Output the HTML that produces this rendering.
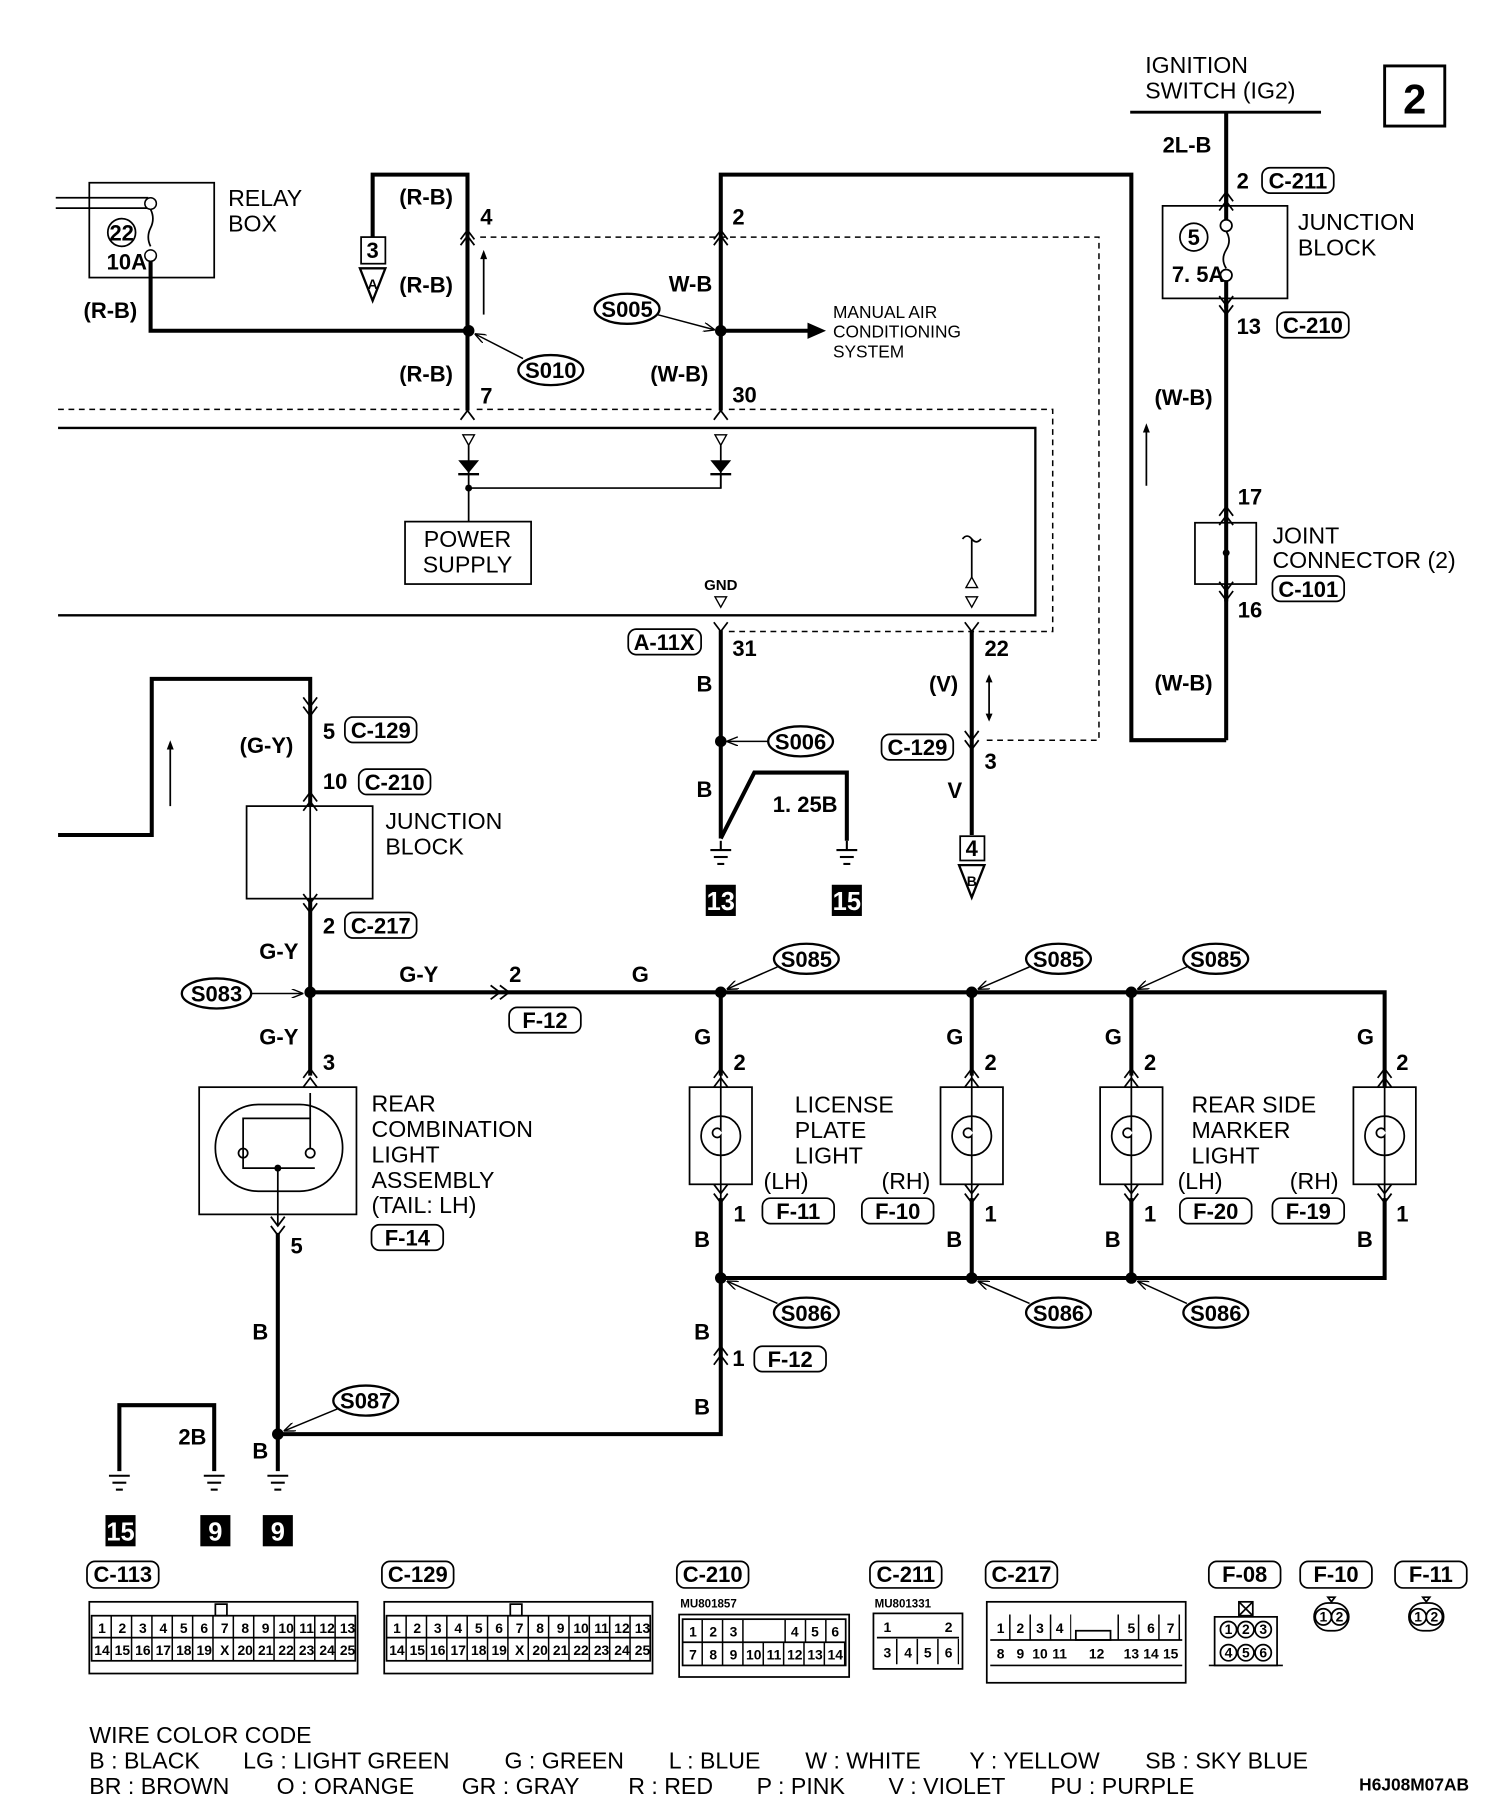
<!DOCTYPE html>
<html><head><meta charset="utf-8"><style>
html,body{margin:0;padding:0;background:#fff}
svg{display:block}
text{font-family:"Liberation Sans Narrow","Liberation Sans",sans-serif;fill:#000}
.b{font-weight:bold;font-size:19px}
.n{font-size:20px}
.s{font-size:15px}
.p{font-size:12px;font-weight:bold}
.w{stroke:#000;stroke-width:3.5;fill:none}
.t{stroke:#000;stroke-width:1.5;fill:none}
.l{stroke:#000;stroke-width:1.3;fill:none;marker-end:url(#ah)}
.d{stroke:#000;stroke-width:1.3;fill:none;stroke-dasharray:5,4}
.bx{stroke:#000;stroke-width:1.5;fill:#fff}
</style></head><body>
<svg width="1504" height="1810" viewBox="0 0 1300 1565" xmlns="http://www.w3.org/2000/svg">
<defs><marker id="ah" markerWidth="10" markerHeight="8" refX="9" refY="4" orient="auto" markerUnits="userSpaceOnUse"><path d="M0 0 L10 4 L0 8" fill="none" stroke="#000" stroke-width="1.2"/></marker></defs>
<!-- top right -->
<text class="n" x="990" y="63">IGNITION</text>
<text class="n" x="990" y="85">SWITCH (IG2)</text>
<line x1="977" y1="97" x2="1142" y2="97" stroke="#000" stroke-width="2.5"/>
<rect x="1197" y="57" width="52" height="52" fill="none" stroke="#000" stroke-width="2.5"/>
<text x="1223" y="98" font-size="36" font-weight="bold" text-anchor="middle">2</text>
<line class="w" x1="1060" y1="97" x2="1060" y2="640"/>
<rect class="bx" x="1005" y="178" width="108" height="80"/>
<line class="w" x1="1060" y1="170" x2="1060" y2="190"/>
<line class="w" x1="1060" y1="243" x2="1060" y2="266"/>
<circle cx="1060" cy="195" r="5" fill="#fff" stroke="#000" stroke-width="1.5"/>
<path class="t" d="M1060 200 q5 8 0 16 q-5 8 0 16"/>
<circle cx="1060" cy="238" r="5" fill="#fff" stroke="#000" stroke-width="1.5"/>
<circle cx="1032" cy="205" r="12" class="t"/><text class="b" x="1032" y="212" text-anchor="middle">5</text>
<text class="b" x="1013" y="244">7. 5A</text>
<text class="n" x="1122" y="199">JUNCTION</text>
<text class="n" x="1122" y="221">BLOCK</text>
<text class="b" x="1005" y="132">2L-B</text>
<text class="b" x="1069" y="163">2</text>
<rect x="1091" y="145" width="62" height="22" rx="7" class="t"/><text class="b" x="1122" y="163" text-anchor="middle">C-211</text>
<text class="b" x="1069" y="289">13</text>
<rect x="1104" y="270" width="62" height="22" rx="7" class="t"/><text class="b" x="1135" y="288" text-anchor="middle">C-210</text>
<text class="b" x="998" y="350">(W-B)</text>
<line class="t" x1="991" y1="420" x2="991" y2="370"/><path d="M991 366 l-3 8 h6z"/>
<text class="b" x="1070" y="436">17</text>
<rect class="bx" x="1033" y="452" width="53" height="53"/>
<line class="w" x1="1060" y1="440" x2="1060" y2="520"/>
<circle cx="1060" cy="478" r="3"/>
<text class="n" x="1100" y="470">JOINT</text>
<text class="n" x="1100" y="491">CONNECTOR (2)</text>
<rect x="1100" y="498" width="62" height="22" rx="7" class="t"/><text class="b" x="1131" y="516" text-anchor="middle">C-101</text>
<text class="b" x="1070" y="534">16</text>
<text class="b" x="998" y="597">(W-B)</text>
<polyline class="w" points="1060,640 978,640 978,151 623,151 623,355"/>

<!-- relay box -->
<rect class="bx" x="77" y="158" width="108" height="82"/>
<line class="t" x1="48" y1="171" x2="128" y2="171"/><line class="t" x1="48" y1="180" x2="128" y2="180"/>
<circle cx="130" cy="176" r="5" fill="#fff" stroke="#000" stroke-width="1.3"/>
<path class="t" d="M130 181 q4 8 0 16 q-4 8 0 16"/>
<circle cx="130" cy="221" r="5" fill="#fff" stroke="#000" stroke-width="1.3"/>
<circle cx="105" cy="201" r="12" class="t"/><text class="b" x="105" y="208" text-anchor="middle" font-size="16">22</text>
<text class="b" x="92" y="233" font-size="16">10A</text>
<text class="n" x="197" y="178">RELAY</text>
<text class="n" x="197" y="200">BOX</text>
<polyline class="w" points="130,226 130,286 405,286"/>
<text class="b" x="72" y="275">(R-B)</text>
<polyline class="w" points="322,205 322,151 404,151 404,355"/>
<rect class="bx" x="312" y="205" width="21" height="23" stroke-width="2"/><text class="b" x="322" y="223" text-anchor="middle" font-size="16">3</text>
<path d="M311 232 h22 l-11 28z" fill="#fff" stroke="#000" stroke-width="2"/><text x="322" y="250" font-size="12" font-weight="bold" text-anchor="middle">A</text>
<text class="b" x="345" y="177">(R-B)</text>
<text class="b" x="415" y="194">4</text>
<text class="b" x="345" y="253">(R-B)</text>
<line class="t" x1="418" y1="272" x2="418" y2="222"/><path d="M418 216 l-3 8 h6z"/>
<text class="b" x="345" y="330">(R-B)</text>
<text class="b" x="415" y="349">7</text>
<circle cx="405" cy="286" r="5"/>
<ellipse cx="476" cy="320" rx="28" ry="13" fill="#fff" stroke="#000" stroke-width="2"/><text class="b" x="476" y="327" text-anchor="middle">S010</text>
<line class="l" x1="452" y1="310" x2="411" y2="289"/>
<!-- W-B -->
<text class="b" x="633" y="194">2</text>
<text class="b" x="578" y="252">W-B</text>
<ellipse cx="542" cy="267" rx="28" ry="13" fill="#fff" stroke="#000" stroke-width="2"/><text class="b" x="542" y="274" text-anchor="middle">S005</text>
<line class="l" x1="568" y1="272" x2="617" y2="285"/>
<circle cx="623" cy="286" r="5"/>
<line class="w" x1="623" y1="286" x2="700" y2="286"/><path d="M714 286 l-16 -7 v14z"/>
<text class="s" x="720" y="275">MANUAL AIR</text>
<text class="s" x="720" y="292">CONDITIONING</text>
<text class="s" x="720" y="309">SYSTEM</text>
<text class="b" x="562" y="330">(W-B)</text>
<text class="b" x="633" y="348">30</text>
<g class="t">
<path d="M398 212 l6 -8 l6 8 M398 207 l6 -8 l6 8"/>
<path d="M617 212 l6 -8 l6 8 M617 207 l6 -8 l6 8"/>
<path d="M398 363 l6 -8 l6 8"/><path d="M617 363 l6 -8 l6 8"/>
<path d="M1054 174 l6 -8 l6 8 M1054 182 l6 -8 l6 8"/>
<path d="M1054 256 l6 8 l6 -8 M1054 264 l6 8 l6 -8"/>
<path d="M1054 446 l6 -8 l6 8 M1054 454 l6 -8 l6 8"/>
<path d="M1054 503 l6 8 l6 -8 M1054 511 l6 8 l6 -8"/>
</g>
<polyline class="d" points="415,205 950,205 950,640 850,640"/>
<polyline class="d" points="50,354 398,354"/><polyline class="d" points="412,354 616,354"/>
<polyline class="d" points="630,354 910,354 910,546 630,546"/>
<!-- ECU -->
<polyline points="50,370 895,370 895,532 50,532" fill="none" stroke="#000" stroke-width="2"/>
<path d="M400 376 h10 l-5 9z M618 376 h10 l-5 9z" fill="#fff" stroke="#000" stroke-width="1.2"/>
<line class="t" x1="405" y1="385" x2="405" y2="451"/><line class="t" x1="623" y1="385" x2="623" y2="422"/>
<path d="M396 398 h18 l-9 11z M614 398 h18 l-9 11z"/>
<line x1="396" y1="410" x2="414" y2="410" stroke="#000" stroke-width="2"/><line x1="614" y1="410" x2="632" y2="410" stroke="#000" stroke-width="2"/>
<polyline class="t" points="405,422 623,422 623,410"/>
<circle cx="405" cy="422" r="3"/>
<rect class="bx" x="350" y="451" width="109" height="54"/>
<text class="n" x="404" y="473" text-anchor="middle">POWER</text>
<text class="n" x="404" y="495" text-anchor="middle">SUPPLY</text>
<text x="623" y="510" font-size="13" font-weight="bold" text-anchor="middle">GND</text>
<path d="M618 516 h10 l-5 9z" fill="#fff" stroke="#000" stroke-width="1.2"/>
<path class="t" d="M832 466 q4 -5 8 0 q4 5 8 0"/>
<line class="t" x1="840" y1="466" x2="840" y2="500"/>
<path d="M835 508 h10 l-5 -9z M835 516 h10 l-5 9z" fill="#fff" stroke="#000" stroke-width="1.2"/>
<rect x="543" y="544" width="63" height="22" rx="7" class="t"/><text class="b" x="574" y="562" text-anchor="middle">A-11X</text>
<path class="t" d="M617 538 l6 8 l6 -8 M834 538 l6 8 l6 -8"/>
<text class="b" x="633" y="567">31</text>
<line class="w" x1="623" y1="545" x2="623" y2="725"/>
<text class="b" x="602" y="598">B</text>
<circle cx="623" cy="641" r="5"/>
<ellipse cx="692" cy="641" rx="28" ry="13" fill="#fff" stroke="#000" stroke-width="2"/><text class="b" x="692" y="648" text-anchor="middle">S006</text>
<line class="l" x1="664" y1="641" x2="629" y2="641"/>
<text class="b" x="602" y="689">B</text>
<polyline class="w" points="623,725 652,668 732,668 732,727"/>
<text class="b" x="668" y="702">1. 25B</text>
<g stroke="#000" stroke-width="1.8">
<line x1="623" y1="727" x2="623" y2="735"/><line x1="614" y1="735" x2="632" y2="735"/><line x1="617" y1="741" x2="629" y2="741"/><line x1="620" y1="747" x2="626" y2="747"/>
<line x1="732" y1="727" x2="732" y2="735"/><line x1="723" y1="735" x2="741" y2="735"/><line x1="726" y1="741" x2="738" y2="741"/><line x1="729" y1="747" x2="735" y2="747"/>
</g>
<rect x="610" y="765" width="26" height="27"/><text x="623" y="787" font-size="22" font-weight="bold" style="fill:#fff" text-anchor="middle">13</text>
<rect x="719" y="765" width="26" height="27"/><text x="732" y="787" font-size="22" font-weight="bold" style="fill:#fff" text-anchor="middle">15</text>
<line class="w" x1="840" y1="545" x2="840" y2="722"/>
<text class="b" x="851" y="567">22</text>
<text class="b" x="803" y="598">(V)</text>
<line class="t" x1="855" y1="587" x2="855" y2="620"/><path d="M855 583 l-3 7 h6z M855 624 l-3 -7 h6z"/>
<path class="t" d="M834 632 l6 8 l6 -8 M834 640 l6 8 l6 -8"/>
<rect x="762" y="635" width="62" height="22" rx="7" class="t"/><text class="b" x="793" y="653" text-anchor="middle">C-129</text>
<text class="b" x="851" y="665">3</text>
<text class="b" x="819" y="690">V</text>
<rect class="bx" x="830" y="723" width="21" height="21" stroke-width="2"/><text class="b" x="840" y="740" text-anchor="middle" font-size="16">4</text>
<path d="M829 748 h22 l-11 28z" fill="#fff" stroke="#000" stroke-width="2"/><text x="840" y="766" font-size="12" font-weight="bold" text-anchor="middle">B</text>

<!-- left middle -->
<polyline class="w" points="50,722 131,722 131,587 268,587 268,697"/>
<line class="w" x1="268" y1="777" x2="268" y2="930"/>
<line class="t" x1="147" y1="697" x2="147" y2="645"/><path d="M147 640 l-3 8 h6z"/>
<path class="t" d="M262 603 l6 8 l6 -8 M262 611 l6 8 l6 -8"/>
<text class="b" x="279" y="639">5</text>
<rect x="298" y="620" width="62" height="22" rx="7" class="t"/><text class="b" x="329" y="638" text-anchor="middle">C-129</text>
<text class="b" x="207" y="651">(G-Y)</text>
<text class="b" x="279" y="682">10</text>
<rect x="310" y="665" width="62" height="22" rx="7" class="t"/><text class="b" x="341" y="683" text-anchor="middle">C-210</text>
<rect x="213" y="697" width="109" height="80" fill="none" stroke="#000" stroke-width="1.5"/>
<line class="t" x1="268" y1="685" x2="268" y2="790"/>
<path class="t" d="M262 693 l6 -8 l6 8 M262 701 l6 -8 l6 8 M262 773 l6 8 l6 -8 M262 781 l6 8 l6 -8"/>
<text class="n" x="333" y="717">JUNCTION</text>
<text class="n" x="333" y="739">BLOCK</text>
<text class="b" x="279" y="807">2</text>
<rect x="298" y="789" width="62" height="22" rx="7" class="t"/><text class="b" x="329" y="807" text-anchor="middle">C-217</text>
<text class="b" x="224" y="829">G-Y</text>
<circle cx="268" cy="858" r="5"/>
<ellipse cx="187" cy="859" rx="30" ry="13" fill="#fff" stroke="#000" stroke-width="2"/><text class="b" x="187" y="866" text-anchor="middle">S083</text>
<line class="l" x1="217" y1="859" x2="261" y2="859"/>
<polyline class="w" points="268,858 1197,858 1197,940"/>
<path class="t" d="M424 852 l8 6 l-8 6 M432 852 l8 6 l-8 6"/>
<text class="b" x="345" y="849">G-Y</text>
<text class="b" x="440" y="849">2</text>
<text class="b" x="546" y="849">G</text>
<rect x="440" y="871" width="62" height="22" rx="7" class="t"/><text class="b" x="471" y="889" text-anchor="middle">F-12</text>
<text class="b" x="224" y="903">G-Y</text>
<text class="b" x="279" y="925">3</text>
<rect class="bx" x="172" y="940" width="136" height="110"/>
<path class="t" d="M262 932 l6 -8 l6 8 M262 940 l6 -8 l6 8"/>
<rect x="186" y="955" width="110" height="75" rx="37" class="t"/>
<polyline class="t" points="268,945 268,967 210,967 210,1010 272,1010"/>
<circle cx="210" cy="997" r="4" class="t"/><circle cx="268" cy="997" r="4" class="t"/>
<line class="t" x1="268" y1="967" x2="268" y2="993"/>
<circle cx="240" cy="1010" r="3"/>
<line class="t" x1="240" y1="1010" x2="240" y2="1060"/>
<path class="t" d="M234 1052 l6 8 l6 -8 M234 1060 l6 8 l6 -8"/>
<line class="w" x1="240" y1="1066" x2="240" y2="1272"/>
<text class="n" x="321" y="961">REAR</text>
<text class="n" x="321" y="983">COMBINATION</text>
<text class="n" x="321" y="1005">LIGHT</text>
<text class="n" x="321" y="1027">ASSEMBLY</text>
<text class="n" x="321" y="1049">(TAIL: LH)</text>
<rect x="321" y="1059" width="62" height="22" rx="7" class="t"/><text class="b" x="352" y="1077" text-anchor="middle">F-14</text>
<text class="b" x="251" y="1084">5</text>
<text class="b" x="218" y="1158">B</text>
<text class="b" x="218" y="1261">B</text>
<!-- lamps -->
<g>
<line class="w" x1="623" y1="858" x2="623" y2="930"/>
<line class="w" x1="840" y1="858" x2="840" y2="930"/>
<line class="w" x1="978" y1="858" x2="978" y2="930"/>
<rect class="bx" x="596" y="940" width="54" height="84"/>
<rect class="bx" x="813" y="940" width="54" height="84"/>
<rect class="bx" x="951" y="940" width="54" height="84"/>
<rect class="bx" x="1170" y="940" width="54" height="84"/>
<line class="t" x1="623" y1="925" x2="623" y2="1040"/>
<line class="t" x1="840" y1="925" x2="840" y2="1040"/>
<line class="t" x1="978" y1="925" x2="978" y2="1040"/>
<line class="t" x1="1197" y1="925" x2="1197" y2="1040"/>
<circle cx="623" cy="982" r="17" fill="#fff" stroke="#000" stroke-width="1.5"/><circle cx="840" cy="982" r="17" fill="#fff" stroke="#000" stroke-width="1.5"/><circle cx="978" cy="982" r="17" fill="#fff" stroke="#000" stroke-width="1.5"/><circle cx="1197" cy="982" r="17" fill="#fff" stroke="#000" stroke-width="1.5"/>
<path class="t" d="M623 965 v12 a4 4 0 1 0 0 5 v17 M840 965 v12 a4 4 0 1 0 0 5 v17 M978 965 v12 a4 4 0 1 0 0 5 v17 M1197 965 v12 a4 4 0 1 0 0 5 v17"/>
<path class="t" d="M617 932 l6 -8 l6 8 M617 940 l6 -8 l6 8 M617 1024 l6 8 l6 -8 M617 1032 l6 8 l6 -8"/>
<path class="t" d="M834 932 l6 -8 l6 8 M834 940 l6 -8 l6 8 M834 1024 l6 8 l6 -8 M834 1032 l6 8 l6 -8"/>
<path class="t" d="M972 932 l6 -8 l6 8 M972 940 l6 -8 l6 8 M972 1024 l6 8 l6 -8 M972 1032 l6 8 l6 -8"/>
<path class="t" d="M1191 932 l6 -8 l6 8 M1191 940 l6 -8 l6 8 M1191 1024 l6 8 l6 -8 M1191 1032 l6 8 l6 -8"/>
<polyline class="w" points="623,1036 623,1240 240,1240"/>
<polyline class="w" points="840,1036 840,1105"/>
<polyline class="w" points="978,1036 978,1105"/>
<polyline class="w" points="1197,1036 1197,1105 623,1105"/>
</g>
<text class="b" x="600" y="903">G</text><text class="b" x="634" y="925">2</text><text class="b" x="634" y="1056">1</text><text class="b" x="600" y="1078">B</text>
<text class="b" x="818" y="903">G</text><text class="b" x="851" y="925">2</text><text class="b" x="851" y="1056">1</text><text class="b" x="818" y="1078">B</text>
<text class="b" x="955" y="903">G</text><text class="b" x="989" y="925">2</text><text class="b" x="989" y="1056">1</text><text class="b" x="955" y="1078">B</text>
<text class="b" x="1173" y="903">G</text><text class="b" x="1207" y="925">2</text><text class="b" x="1207" y="1056">1</text><text class="b" x="1173" y="1078">B</text>
<circle cx="623" cy="858" r="5"/><circle cx="840" cy="858" r="5"/><circle cx="978" cy="858" r="5"/>
<ellipse cx="697" cy="829" rx="28" ry="13" fill="#fff" stroke="#000" stroke-width="2"/><text class="b" x="697" y="836" text-anchor="middle">S085</text>
<ellipse cx="915" cy="829" rx="28" ry="13" fill="#fff" stroke="#000" stroke-width="2"/><text class="b" x="915" y="836" text-anchor="middle">S085</text>
<ellipse cx="1051" cy="829" rx="28" ry="13" fill="#fff" stroke="#000" stroke-width="2"/><text class="b" x="1051" y="836" text-anchor="middle">S085</text>
<line class="l" x1="672" y1="836" x2="629" y2="855"/><line class="l" x1="890" y1="836" x2="846" y2="855"/><line class="l" x1="1026" y1="836" x2="984" y2="855"/>
<text class="n" x="687" y="962">LICENSE</text><text class="n" x="687" y="984">PLATE</text><text class="n" x="687" y="1006">LIGHT</text>
<text class="n" x="660" y="1028">(LH)</text><text class="n" x="762" y="1028">(RH)</text>
<rect x="659" y="1036" width="62" height="22" rx="7" class="t"/><text class="b" x="690" y="1054" text-anchor="middle">F-11</text>
<rect x="745" y="1036" width="62" height="22" rx="7" class="t"/><text class="b" x="776" y="1054" text-anchor="middle">F-10</text>
<text class="n" x="1030" y="962">REAR SIDE</text><text class="n" x="1030" y="984">MARKER</text><text class="n" x="1030" y="1006">LIGHT</text>
<text class="n" x="1018" y="1028">(LH)</text><text class="n" x="1115" y="1028">(RH)</text>
<rect x="1020" y="1036" width="62" height="22" rx="7" class="t"/><text class="b" x="1051" y="1054" text-anchor="middle">F-20</text>
<rect x="1100" y="1036" width="62" height="22" rx="7" class="t"/><text class="b" x="1131" y="1054" text-anchor="middle">F-19</text>
<circle cx="623" cy="1105" r="5"/><circle cx="840" cy="1105" r="5"/><circle cx="978" cy="1105" r="5"/>
<ellipse cx="697" cy="1135" rx="28" ry="13" fill="#fff" stroke="#000" stroke-width="2"/><text class="b" x="697" y="1142" text-anchor="middle">S086</text>
<ellipse cx="915" cy="1135" rx="28" ry="13" fill="#fff" stroke="#000" stroke-width="2"/><text class="b" x="915" y="1142" text-anchor="middle">S086</text>
<ellipse cx="1051" cy="1135" rx="28" ry="13" fill="#fff" stroke="#000" stroke-width="2"/><text class="b" x="1051" y="1142" text-anchor="middle">S086</text>
<line class="l" x1="672" y1="1127" x2="629" y2="1108"/><line class="l" x1="890" y1="1127" x2="846" y2="1108"/><line class="l" x1="1026" y1="1127" x2="984" y2="1108"/>
<text class="b" x="600" y="1158">B</text>
<path class="t" d="M617 1172 l6 -8 l6 8 M617 1180 l6 -8 l6 8"/>
<text class="b" x="633" y="1181">1</text>
<rect x="652" y="1164" width="62" height="22" rx="7" class="t"/><text class="b" x="683" y="1182" text-anchor="middle">F-12</text>
<text class="b" x="600" y="1223">B</text>
<circle cx="240" cy="1240" r="5"/>
<ellipse cx="316" cy="1211" rx="28" ry="13" fill="#fff" stroke="#000" stroke-width="2"/><text class="b" x="316" y="1218" text-anchor="middle">S087</text>
<line class="l" x1="292" y1="1218" x2="246" y2="1237"/>
<polyline class="w" points="103,1272 103,1215 185,1215 185,1272"/>
<text class="b" x="154" y="1249">2B</text>
<g stroke="#000" stroke-width="1.8">
<line x1="94" y1="1276" x2="112" y2="1276"/><line x1="97" y1="1282" x2="109" y2="1282"/><line x1="100" y1="1288" x2="106" y2="1288"/>
<line x1="176" y1="1276" x2="194" y2="1276"/><line x1="179" y1="1282" x2="191" y2="1282"/><line x1="182" y1="1288" x2="188" y2="1288"/>
<line x1="231" y1="1276" x2="249" y2="1276"/><line x1="234" y1="1282" x2="246" y2="1282"/><line x1="237" y1="1288" x2="243" y2="1288"/>
</g>
<rect x="91" y="1310" width="26" height="27"/><text x="104" y="1332" font-size="22" font-weight="bold" style="fill:#fff" text-anchor="middle">15</text>
<rect x="173" y="1310" width="26" height="27"/><text x="186" y="1332" font-size="22" font-weight="bold" style="fill:#fff" text-anchor="middle">9</text>
<rect x="227" y="1310" width="26" height="27"/><text x="240" y="1332" font-size="22" font-weight="bold" style="fill:#fff" text-anchor="middle">9</text>

<!-- connector labels -->
<rect x="75" y="1350" width="62" height="23" rx="7" class="t"/><text class="b" x="106" y="1368" text-anchor="middle">C-113</text>
<rect x="330" y="1350" width="62" height="23" rx="7" class="t"/><text class="b" x="361" y="1368" text-anchor="middle">C-129</text>
<rect x="585" y="1350" width="62" height="23" rx="7" class="t"/><text class="b" x="616" y="1368" text-anchor="middle">C-210</text>
<rect x="752" y="1350" width="62" height="23" rx="7" class="t"/><text class="b" x="783" y="1368" text-anchor="middle">C-211</text>
<rect x="852" y="1350" width="62" height="23" rx="7" class="t"/><text class="b" x="883" y="1368" text-anchor="middle">C-217</text>
<rect x="1045" y="1350" width="62" height="23" rx="7" class="t"/><text class="b" x="1076" y="1368" text-anchor="middle">F-08</text>
<rect x="1124" y="1350" width="62" height="23" rx="7" class="t"/><text class="b" x="1155" y="1368" text-anchor="middle">F-10</text>
<rect x="1206" y="1350" width="62" height="23" rx="7" class="t"/><text class="b" x="1237" y="1368" text-anchor="middle">F-11</text>

<!-- C-113 -->
<g>
<rect x="77" y="1385" width="232" height="62" class="t"/>
<rect x="79" y="1397" width="228" height="39" class="t"/>
<line class="t" x1="79" y1="1416" x2="307" y2="1416"/>
<line x1="79" y1="1416.5" x2="307" y2="1416.5" stroke="#000" stroke-width="39" stroke-dasharray="1.3 16.3" stroke-dashoffset="-16.3"/>
<rect x="186" y="1387" width="10" height="10" class="t"/>
<g class="p" text-anchor="middle">
<text x="88" y="1412">1</text><text x="105.6" y="1412">2</text><text x="123.3" y="1412">3</text><text x="141" y="1412">4</text><text x="158.7" y="1412">5</text><text x="176.4" y="1412">6</text><text x="194.1" y="1412">7</text><text x="211.8" y="1412">8</text><text x="229.5" y="1412">9</text><text x="247.2" y="1412">10</text><text x="264.9" y="1412">11</text><text x="282.6" y="1412">12</text><text x="300.3" y="1412">13</text>
<text x="88" y="1431">14</text><text x="105.6" y="1431">15</text><text x="123.3" y="1431">16</text><text x="141" y="1431">17</text><text x="158.7" y="1431">18</text><text x="176.4" y="1431">19</text><text x="194.1" y="1431">X</text><text x="211.8" y="1431">20</text><text x="229.5" y="1431">21</text><text x="247.2" y="1431">22</text><text x="264.9" y="1431">23</text><text x="282.6" y="1431">24</text><text x="300.3" y="1431">25</text>
</g>
</g>
<!-- C-129 -->
<g>
<rect x="332" y="1385" width="232" height="62" class="t"/>
<rect x="334" y="1397" width="228" height="39" class="t"/>
<line class="t" x1="334" y1="1416" x2="562" y2="1416"/>
<line x1="334" y1="1416.5" x2="562" y2="1416.5" stroke="#000" stroke-width="39" stroke-dasharray="1.3 16.3" stroke-dashoffset="-16.3"/>
<rect x="441" y="1387" width="10" height="10" class="t"/>
<g class="p" text-anchor="middle">
<text x="343" y="1412">1</text><text x="360.6" y="1412">2</text><text x="378.3" y="1412">3</text><text x="396" y="1412">4</text><text x="413.7" y="1412">5</text><text x="431.4" y="1412">6</text><text x="449.1" y="1412">7</text><text x="466.8" y="1412">8</text><text x="484.5" y="1412">9</text><text x="502.2" y="1412">10</text><text x="519.9" y="1412">11</text><text x="537.6" y="1412">12</text><text x="555.3" y="1412">13</text>
<text x="343" y="1431">14</text><text x="360.6" y="1431">15</text><text x="378.3" y="1431">16</text><text x="396" y="1431">17</text><text x="413.7" y="1431">18</text><text x="431.4" y="1431">19</text><text x="449.1" y="1431">X</text><text x="466.8" y="1431">20</text><text x="484.5" y="1431">21</text><text x="502.2" y="1431">22</text><text x="519.9" y="1431">23</text><text x="537.6" y="1431">24</text><text x="555.3" y="1431">25</text>
</g>
</g>
<!-- C-210 -->
<text x="588" y="1390" font-size="10" font-weight="bold">MU801857</text>
<g>
<rect x="587" y="1396" width="147" height="54" class="t"/>
<rect x="590" y="1400" width="141" height="40" class="t"/>
<line class="t" x1="590" y1="1420" x2="731" y2="1420"/>
<line x1="590" y1="1430" x2="731" y2="1430" stroke="#000" stroke-width="20" stroke-dasharray="1.3 16.3" stroke-dashoffset="-16.3"/>
<line x1="590" y1="1410" x2="644" y2="1410" stroke="#000" stroke-width="20" stroke-dasharray="1.3 16.3" stroke-dashoffset="-16.3"/>
<line x1="678" y1="1410" x2="731" y2="1410" stroke="#000" stroke-width="20" stroke-dasharray="1.3 16.3" stroke-dashoffset="0"/>
<g class="p" text-anchor="middle">
<text x="599" y="1415">1</text><text x="616.5" y="1415">2</text><text x="634" y="1415">3</text><text x="687" y="1415">4</text><text x="704.5" y="1415">5</text><text x="722" y="1415">6</text>
<text x="599" y="1435">7</text><text x="616.5" y="1435">8</text><text x="634" y="1435">9</text><text x="651.5" y="1435">10</text><text x="669" y="1435">11</text><text x="687" y="1435">12</text><text x="704.5" y="1435">13</text><text x="722" y="1435">14</text>
</g>
</g>
<!-- C-211 -->
<text x="756" y="1390" font-size="10" font-weight="bold">MU801331</text>
<g>
<rect x="755" y="1395" width="77" height="48" class="t"/>
<line class="t" x1="758" y1="1416" x2="829" y2="1416"/>
<line x1="758" y1="1428" x2="829" y2="1428" stroke="#000" stroke-width="22" stroke-dasharray="1.3 16.5" stroke-dashoffset="-16.5"/>
<g class="p" text-anchor="middle">
<text x="767" y="1411">1</text><text x="820" y="1411">2</text>
<text x="767" y="1433">3</text><text x="785" y="1433">4</text><text x="802" y="1433">5</text><text x="820" y="1433">6</text>
</g>
</g>
<!-- C-217 -->
<g>
<rect x="853" y="1385" width="172" height="70" class="t"/>
<line class="t" x1="856" y1="1440" x2="1022" y2="1440"/>
<line class="t" x1="856" y1="1418" x2="1022" y2="1418"/>
<line x1="856" y1="1407" x2="926" y2="1407" stroke="#000" stroke-width="22" stroke-dasharray="1.3 16.3" stroke-dashoffset="-16.3"/>
<line x1="966" y1="1407" x2="1022" y2="1407" stroke="#000" stroke-width="22" stroke-dasharray="1.3 16.3" stroke-dashoffset="0"/>
<g class="p" text-anchor="middle">
<text x="865" y="1412">1</text><text x="882" y="1412">2</text><text x="899" y="1412">3</text><text x="916" y="1412">4</text><text x="978" y="1412">5</text><text x="995" y="1412">6</text><text x="1012" y="1412">7</text>
<text x="865" y="1434">8</text><text x="882" y="1434">9</text><text x="899" y="1434">10</text><text x="916" y="1434">11</text><text x="948" y="1434">12</text><text x="978" y="1434">13</text><text x="995" y="1434">14</text><text x="1012" y="1434">15</text>
</g>
<rect x="930" y="1410" width="30" height="8" class="t"/>
</g>
<!-- F-08 -->
<g>
<rect x="1071" y="1385" width="12" height="12" class="t"/>
<line class="t" x1="1071" y1="1385" x2="1083" y2="1397"/><line class="t" x1="1083" y1="1385" x2="1071" y2="1397"/>
<rect x="1050" y="1398" width="54" height="42" class="t"/>
<line class="t" x1="1045" y1="1440" x2="1109" y2="1440"/>
<circle cx="1062" cy="1409" r="7" class="t"/><circle cx="1077" cy="1409" r="7" class="t"/><circle cx="1092" cy="1409" r="7" class="t"/>
<circle cx="1062" cy="1429" r="7" class="t"/><circle cx="1077" cy="1429" r="7" class="t"/><circle cx="1092" cy="1429" r="7" class="t"/>
<g class="p" text-anchor="middle"><text x="1062" y="1413">1</text><text x="1077" y="1413">2</text><text x="1092" y="1413">3</text><text x="1062" y="1433">4</text><text x="1077" y="1433">5</text><text x="1092" y="1433">6</text></g>
</g>
<!-- F-10 / F-11 -->
<g>
<rect x="1136" y="1386" width="30" height="24" rx="12" class="t"/>
<circle cx="1144" cy="1398" r="7" class="t"/><circle cx="1158" cy="1398" r="7" class="t"/>
<text class="p" x="1144" y="1402" text-anchor="middle">1</text><text class="p" x="1158" y="1402" text-anchor="middle">2</text>
<path d="M1148 1381 h6 l-3 4z" class="t"/>
<rect x="1218" y="1386" width="30" height="24" rx="12" class="t"/>
<circle cx="1226" cy="1398" r="7" class="t"/><circle cx="1240" cy="1398" r="7" class="t"/>
<text class="p" x="1226" y="1402" text-anchor="middle">1</text><text class="p" x="1240" y="1402" text-anchor="middle">2</text>
<path d="M1230 1381 h6 l-3 4z" class="t"/>
</g>

<!-- color code -->
<text class="n" x="77" y="1507">WIRE COLOR CODE</text>
<g class="n">
<text x="77" y="1529">B : BLACK</text><text x="210" y="1529">LG : LIGHT GREEN</text><text x="436" y="1529">G : GREEN</text><text x="578" y="1529">L : BLUE</text><text x="696" y="1529">W : WHITE</text><text x="838" y="1529">Y : YELLOW</text><text x="990" y="1529">SB : SKY BLUE</text>
<text x="77" y="1551">BR : BROWN</text><text x="239" y="1551">O : ORANGE</text><text x="399" y="1551">GR : GRAY</text><text x="543" y="1551">R : RED</text><text x="654" y="1551">P : PINK</text><text x="768" y="1551">V : VIOLET</text><text x="908" y="1551">PU : PURPLE</text>
</g>
<text x="1175" y="1548" font-size="15" font-weight="bold">H6J08M07AB</text>
</svg>
</body></html>
